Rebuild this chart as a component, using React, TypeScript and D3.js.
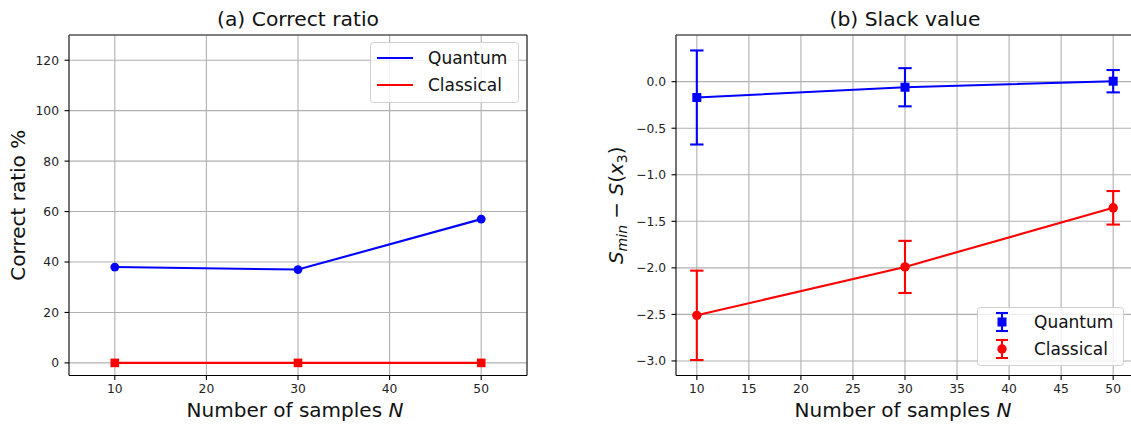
import React, { useEffect, useRef } from "react";
import * as d3 from "d3";

// ---- data ----
const sampleSizes = [10, 30, 50];
const quantumRatio = [38, 37, 57];
const classicalRatio = [0, 0, 0];
const quantumSlack = [-0.17, -0.06, 0.005];
const quantumSlackErr = [0.505, 0.205, 0.12];
const classicalSlack = [-2.51, -1.99, -1.355];
const classicalSlackErr = [0.48, 0.28, 0.18];

const ratioXTicks = [10, 20, 30, 40, 50];
const ratioYTicks = [0, 20, 40, 60, 80, 100, 120];
const slackXTicks = [10, 15, 20, 25, 30, 35, 40, 45, 50];
const slackYTicks = [-3.0, -2.5, -2.0, -1.5, -1.0, -0.5, 0.0];

const seriesNames = ["Quantum", "Classical"];
const BLUE = "#0000ff";
const RED = "#ff0000";
const FONT = "DejaVu Sans, sans-serif";

const W = 1131;
const H = 424;

export default function App() {
  const ref = useRef<SVGSVGElement | null>(null);

  useEffect(() => {
    const svg = d3.select(ref.current);
    svg.selectAll("*").remove();
    svg.append("rect").attr("width", W).attr("height", H).attr("fill", "#fff");

    const top = 35, bottom = 375.5;

    function drawAxes(
      g: any,
      x: any,
      y: any,
      xt: number[],
      yt: number[],
      yfmt: (v: number) => string,
      left: number,
      right: number
    ) {
      g.selectAll(".gx").data(xt).enter().append("line")
        .attr("x1", (d: number) => x(d)).attr("x2", (d: number) => x(d))
        .attr("y1", top).attr("y2", bottom)
        .attr("stroke", "#b0b0b0").attr("stroke-width", 1.1);
      g.selectAll(".gy").data(yt).enter().append("line")
        .attr("x1", left).attr("x2", right)
        .attr("y1", (d: number) => y(d)).attr("y2", (d: number) => y(d))
        .attr("stroke", "#b0b0b0").attr("stroke-width", 1.1);
      g.selectAll(".tx").data(xt).enter().append("line")
        .attr("x1", (d: number) => x(d)).attr("x2", (d: number) => x(d))
        .attr("y1", bottom).attr("y2", bottom + 4.5)
        .attr("stroke", "#000").attr("stroke-width", 1.1);
      g.selectAll(".txl").data(xt).enter().append("text")
        .attr("x", (d: number) => x(d)).attr("y", bottom + 17)
        .attr("text-anchor", "middle").attr("font-family", FONT).attr("font-size", 12.3)
        .attr("fill", "#222")
        .text((d: number) => String(d));
      g.selectAll(".ty").data(yt).enter().append("line")
        .attr("x1", left - 4.5).attr("x2", left)
        .attr("y1", (d: number) => y(d)).attr("y2", (d: number) => y(d))
        .attr("stroke", "#000").attr("stroke-width", 1.1);
      g.selectAll(".tyl").data(yt).enter().append("text")
        .attr("x", left - 10).attr("y", (d: number) => y(d) + 4.4)
        .attr("text-anchor", "end").attr("font-family", FONT).attr("font-size", 12.3)
        .attr("fill", "#222")
        .text((d: number) => yfmt(d));
    }

    function spines(g: any, left: number, right: number) {
      g.append("line").attr("x1", left).attr("x2", left).attr("y1", top).attr("y2", bottom)
        .attr("stroke", "#000").attr("stroke-width", 1.1);
      g.append("line").attr("x1", left).attr("x2", right).attr("y1", bottom).attr("y2", bottom)
        .attr("stroke", "#000").attr("stroke-width", 1.1);
      g.append("line").attr("x1", left).attr("x2", right).attr("y1", top).attr("y2", top)
        .attr("stroke", "#555").attr("stroke-width", 1.5);
      g.append("line").attr("x1", right).attr("x2", right).attr("y1", top).attr("y2", bottom)
        .attr("stroke", "#000").attr("stroke-width", 1.1);
    }

    // ---------- Panel (a) ----------
    {
      const left = 69, right = 527;
      const g = svg.append("g");
      const x = d3.scaleLinear().domain([5, 55]).range([left, right]);
      const y = d3.scaleLinear().domain([-5, 130]).range([bottom, top]);
      drawAxes(g, x, y, ratioXTicks, ratioYTicks, (v) => String(v), left, right);

      const line = d3.line<number>().x((_, i) => x(sampleSizes[i])).y((d) => y(d));
      g.append("path").datum(quantumRatio).attr("d", line).attr("fill", "none")
        .attr("stroke", BLUE).attr("stroke-width", 2.1);
      g.selectAll(".qm").data(quantumRatio).enter().append("circle")
        .attr("cx", (_: number, i: number) => x(sampleSizes[i])).attr("cy", (d: number) => y(d))
        .attr("r", 4.4).attr("fill", BLUE);
      g.append("path").datum(classicalRatio).attr("d", line).attr("fill", "none")
        .attr("stroke", RED).attr("stroke-width", 2.1);
      g.selectAll(".cm").data(classicalRatio).enter().append("rect")
        .attr("x", (_: number, i: number) => x(sampleSizes[i]) - 4.3).attr("y", (d: number) => y(d) - 4.3)
        .attr("width", 8.6).attr("height", 8.6).attr("fill", RED);

      spines(g, left, right);

      const lg = g.append("g");
      lg.append("rect").attr("x", 370.5).attr("y", 42.5).attr("width", 148).attr("height", 60)
        .attr("rx", 3).attr("fill", "#fff").attr("fill-opacity", 0.8)
        .attr("stroke", "#d0d0d0").attr("stroke-width", 1);
      const cols = [BLUE, RED];
      seriesNames.forEach((n, i) => {
        const yy = 58 + i * 27;
        lg.append("line").attr("x1", 377).attr("x2", 413).attr("y1", yy).attr("y2", yy)
          .attr("stroke", cols[i]).attr("stroke-width", 2.1);
        lg.append("text").attr("x", 428).attr("y", yy + 6).attr("font-family", FONT)
          .attr("font-size", 17).attr("fill", "#111").text(n);
      });

      g.append("text").attr("x", (left + right) / 2).attr("y", 26).attr("text-anchor", "middle")
        .attr("font-family", FONT).attr("font-size", 20.3).attr("fill", "#111").text("(a) Correct ratio");
      const xl = g.append("text").attr("x", (left + right) / 2 - 3).attr("y", 417).attr("text-anchor", "middle")
        .attr("font-family", FONT).attr("font-size", 20).attr("fill", "#111");
      xl.append("tspan").text("Number of samples ");
      xl.append("tspan").attr("font-style", "italic").text("N");
      g.append("text").attr("transform", `translate(25,${(top + bottom) / 2}) rotate(-90)`)
        .attr("text-anchor", "middle").attr("font-family", FONT).attr("font-size", 20)
        .attr("fill", "#111").text("Correct ratio %");
    }

    // ---------- Panel (b) ----------
    {
      const left = 676, right = 1134;
      const g = svg.append("g");
      const x = d3.scaleLinear().domain([8, 52]).range([left, right]);
      const lows = [
        ...quantumSlack.map((v, i) => v - quantumSlackErr[i]),
        ...classicalSlack.map((v, i) => v - classicalSlackErr[i]),
      ];
      const highs = [
        ...quantumSlack.map((v, i) => v + quantumSlackErr[i]),
        ...classicalSlack.map((v, i) => v + classicalSlackErr[i]),
      ];
      const lo = d3.min(lows) as number, hi = d3.max(highs) as number;
      const pad = (hi - lo) * 0.05;
      const y = d3.scaleLinear().domain([lo - pad, hi + pad]).range([bottom, top]);
      drawAxes(g, x, y, slackXTicks, slackYTicks, (v) => d3.format(".1f")(v), left, right);

      const cap = 6.7;
      function series(vals: number[], errs: number[], col: string, marker: "s" | "o") {
        const line = d3.line<number>().x((_, i) => x(sampleSizes[i])).y((d) => y(d));
        g.append("path").datum(vals).attr("d", line).attr("fill", "none")
          .attr("stroke", col).attr("stroke-width", 2.1);
        vals.forEach((v, i) => {
          const cx = x(sampleSizes[i]);
          const y1 = y(v + errs[i]), y2 = y(v - errs[i]);
          g.append("line").attr("x1", cx).attr("x2", cx).attr("y1", y1).attr("y2", y2)
            .attr("stroke", col).attr("stroke-width", 2.1);
          [y1, y2].forEach((yy) =>
            g.append("line").attr("x1", cx - cap).attr("x2", cx + cap).attr("y1", yy).attr("y2", yy)
              .attr("stroke", col).attr("stroke-width", 2.1)
          );
          if (marker === "s") {
            g.append("rect").attr("x", cx - 4.5).attr("y", y(v) - 4.5).attr("width", 9).attr("height", 9).attr("fill", col);
          } else {
            g.append("circle").attr("cx", cx).attr("cy", y(v)).attr("r", 4.7).attr("fill", col);
          }
        });
      }
      series(quantumSlack, quantumSlackErr, BLUE, "s");
      series(classicalSlack, classicalSlackErr, RED, "o");

      spines(g, left, right);

      const lg = g.append("g");
      lg.append("rect").attr("x", 977.5).attr("y", 307.5).attr("width", 146).attr("height", 58)
        .attr("rx", 3).attr("fill", "#fff").attr("fill-opacity", 0.8)
        .attr("stroke", "#d0d0d0").attr("stroke-width", 1);
      const cols = [BLUE, RED];
      seriesNames.forEach((n, i) => {
        const yy = 322 + i * 27;
        const cx = 1002;
        lg.append("line").attr("x1", cx).attr("x2", cx).attr("y1", yy - 9).attr("y2", yy + 9)
          .attr("stroke", cols[i]).attr("stroke-width", 2.1);
        [yy - 9, yy + 9].forEach((v) =>
          lg.append("line").attr("x1", cx - 6).attr("x2", cx + 6).attr("y1", v).attr("y2", v)
            .attr("stroke", cols[i]).attr("stroke-width", 2.1)
        );
        if (i === 0) lg.append("rect").attr("x", cx - 4.5).attr("y", yy - 4.5).attr("width", 9).attr("height", 9).attr("fill", cols[i]);
        else lg.append("circle").attr("cx", cx).attr("cy", yy).attr("r", 4.7).attr("fill", cols[i]);
        lg.append("text").attr("x", 1034).attr("y", yy + 6).attr("font-family", FONT)
          .attr("font-size", 17).attr("fill", "#111").text(n);
      });

      g.append("text").attr("x", (left + right) / 2).attr("y", 26).attr("text-anchor", "middle")
        .attr("font-family", FONT).attr("font-size", 20.3).attr("fill", "#111").text("(b) Slack value");
      const xl = g.append("text").attr("x", (left + right) / 2 - 2).attr("y", 417).attr("text-anchor", "middle")
        .attr("font-family", FONT).attr("font-size", 20).attr("fill", "#111");
      xl.append("tspan").text("Number of samples ");
      xl.append("tspan").attr("font-style", "italic").text("N");

      const yl = g.append("text").attr("transform", `translate(623,${(top + bottom) / 2}) rotate(-90)`)
        .attr("text-anchor", "middle").attr("font-family", FONT).attr("font-size", 20).attr("fill", "#111");
      yl.append("tspan").attr("font-style", "italic").text("S");
      yl.append("tspan").attr("font-style", "italic").attr("font-size", 14).attr("dy", 4).text("min");
      yl.append("tspan").attr("dy", -4).text(" \u2212 ");
      yl.append("tspan").attr("font-style", "italic").text("S");
      yl.append("tspan").text("(");
      yl.append("tspan").attr("font-style", "italic").text("x");
      yl.append("tspan").attr("font-size", 14).attr("dy", 4).text("3");
      yl.append("tspan").attr("dy", -4).text(")");
    }
  }, []);

  return (
    <svg
      ref={ref}
      width={W}
      height={H}
      style={{ position: "absolute", left: 0, top: 0, display: "block" }}
    />
  );
}
